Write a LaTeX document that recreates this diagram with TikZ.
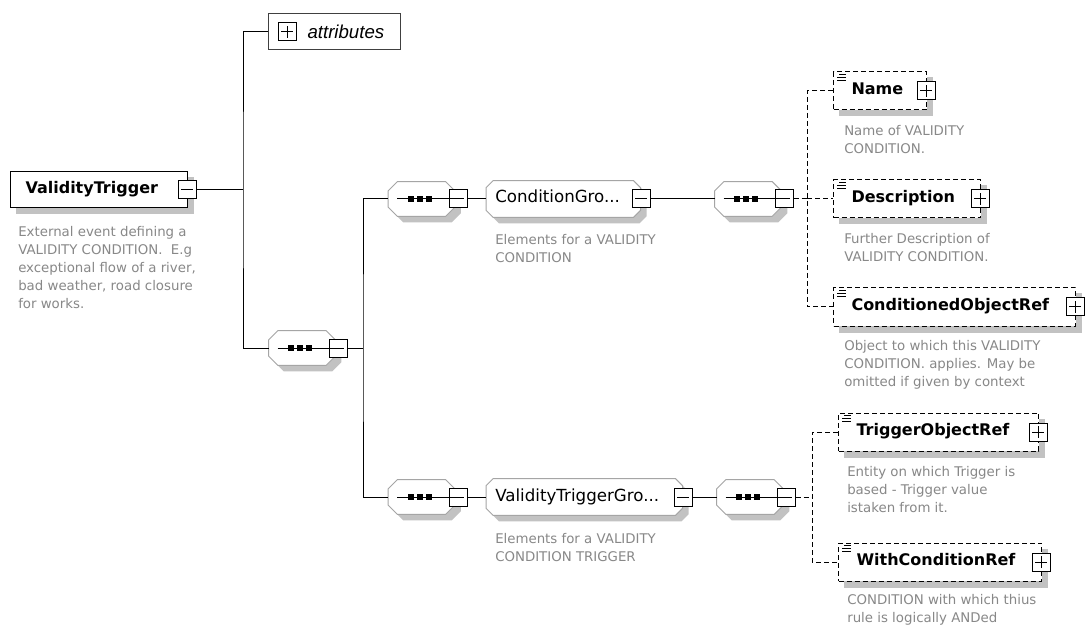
\documentclass[tikz,border=0pt]{standalone}
\usepackage{fontspec}
\setmainfont{DejaVu Sans}
\newfontfamily\arialf{Liberation Sans}
\usetikzlibrary{calc}
\pgfdeclarelayer{bglayer}
\pgfdeclarelayer{shadowlayer}
\pgfdeclarelayer{shapelayer}
\pgfsetlayers{bglayer,shadowlayer,shapelayer,main}
\definecolor{descgray}{RGB}{136,136,136}
\definecolor{shadowc}{RGB}{194,194,194}
\definecolor{octline}{RGB}{165,165,165}
\newcommand\pxu{*0.75pt}
\newcommand\elfont{\fontsize{12}{14}\selectfont\bfseries}
\newcommand\grpfont{\fontsize{12.5}{15}\selectfont}
\newcommand\descfont{\fontsize{10}{13.5}\selectfont}
\newcommand\attrfont{\arialf\itshape\fontsize{14}{16}\selectfont}
\newcommand\octpath[2]{($(#1.north west)+(#2,0)$) -- ($(#1.north east)+(-#2,0)$) -- ($(#1.north east)+(0,#2)$) -- ($(#1.south east)+(0,-#2)$) -- ($(#1.south east)+(-#2,0)$) -- ($(#1.south west)+(#2,0)$) -- ($(#1.south west)+(0,-#2)$) -- ($(#1.north west)+(0,#2)$) -- cycle}
\newcommand\seqicon[1]{%
  \draw[line width=0.75pt] ($(#1.west)+(9,0)$) -- (#1.east);
  \foreach \d in {-14,-5,4} {\fill ($(#1.center)+(\d,-3)$) rectangle ++(6,6);}
}
\newcommand\docicon[1]{%
  \draw[line width=0.6pt] ($(#1.north west)+(6,3)$) -- ++(7,0)
    ($(#1.north west)+(4,6)$) -- ++(9,0)
    ($(#1.north west)+(4,9)$) -- ++(9,0);
}
\tikzset{
  pmbox/.style={draw, fill=white, minimum size=18\pxu, inner sep=0pt, line width=0.75pt},
  minusbox/.style={pmbox, path picture={
     \draw[line width=0.75pt] ([xshift=2.5pt]path picture bounding box.west) -- ([xshift=-2.5pt]path picture bounding box.east);}},
  plusbox/.style={pmbox, path picture={
     \draw[line width=0.75pt] ([xshift=2.5pt]path picture bounding box.west) -- ([xshift=-2.5pt]path picture bounding box.east)
       ([yshift=-2.5pt]path picture bounding box.north) -- ([yshift=2.5pt]path picture bounding box.south);}},
  elem/.style={draw, fill=white, line width=0.75pt, anchor=west, align=left, font=\elfont,
     inner ysep=0pt, inner xsep=11.25pt, minimum height=36\pxu},
  delem/.style={elem, dashed box, inner xsep=13.5pt, minimum height=38\pxu},
  dashed box/.style={dash pattern=on 3.75pt off 2.25pt},
  grp/.style={anchor=west, align=left, font=\grpfont, inner ysep=0pt, inner xsep=6.75pt, minimum height=36\pxu},
  seqn/.style={minimum width=66\pxu, minimum height=34\pxu, inner sep=0pt},
  attrbox/.style={draw=black!75, fill=white, line width=0.75pt, anchor=west, align=left, font=\attrfont,
     inner ysep=0pt, inner xsep=4.5pt, minimum height=36\pxu, text width=90pt},
  desc/.style={anchor=north west, align=left, inner sep=0pt, font=\descfont, text=descgray},
  conn/.style={line width=0.75pt},
  dconn/.style={line width=0.75pt, dash pattern=on 3.75pt off 2.25pt},
  octshape/.style={fill=white, draw=octline, line width=0.75pt},
  shad/.style={fill=shadowc, transform canvas={shift={(6,6)}}}
}
\begin{document}
\begin{tikzpicture}[x=0.75pt,y=-0.75pt]
\useasboundingbox (0,0) rectangle (1085,627);
\begin{pgfonlayer}{bglayer}
\fill[white] (0,0) rectangle (1085,627);
\end{pgfonlayer}

% root element
\node[elem, text width=110.25pt] (vt) at (10,190) {\strut ValidityTrigger};
\node[minusbox] (vtm) at (187,190) {};
\coordinate (j0) at (243,190);
\node[desc] (vtd) at (18,226) {External event defining a\\VALIDITY CONDITION.\ \ E.g\\exceptional flow of a river,\\bad weather, road closure\\for works.};

% attributes
\node[attrbox] (attr) at (268,32) {\hspace*{24.75pt}attributes};
\node[plusbox] (attrp) at (287,32) {};

% first sequence
\node[seqn] (s1) at (302,348) {};
\node[minusbox] (s1m) at (338,348) {};
\coordinate (j1) at (363,348);

% upper branch
\node[seqn] (s2) at (421.5,199) {};
\node[minusbox] (s2m) at (458,199) {};
\node[grp, text width=102pt] (cg) at (486,199) {\strut ConditionGro...};
\node[minusbox] (cgm) at (641,199) {};
\node[desc] (cgd) at (495,234) {Elements for a VALIDITY\\CONDITION};
\node[seqn] (s3) at (748,199) {};
\node[minusbox] (s3m) at (784,199) {};
\coordinate (j3) at (807,199);

% lower branch
\node[seqn] (s5) at (421.5,497) {};
\node[minusbox] (s5m) at (458,497) {};
\node[grp, text width=133.5pt] (vtg) at (486,497) {\strut ValidityTriggerGro...};
\node[minusbox] (vtgm) at (683,497) {};
\node[desc] (vtgd) at (495,533) {Elements for a VALIDITY\\CONDITION TRIGGER};
\node[seqn] (s4) at (750,497) {};
\node[minusbox] (s4m) at (786,497) {};
\coordinate (j4) at (812,497);

% leaf elements
\node[delem, text width=42.75pt] (nm) at (833,91) {\strut Name};
\node[plusbox] (nmp) at (926,91) {};
\node[desc] (nmd) at (844,125) {Name of VALIDITY\\CONDITION.};

\node[delem, text width=83.25pt] (ds) at (833,199) {\strut Description};
\node[plusbox] (dsp) at (980,199) {};
\node[desc] (dsd) at (844,233) {Further Description of\\VALIDITY CONDITION.};

\node[delem, text width=154.5pt] (cor) at (833,307) {\strut ConditionedObjectRef};
\node[plusbox] (corp) at (1075,307) {};
\node[desc] (cord) at (844,340) {Object to which this VALIDITY\\CONDITION. applies. May be\\omitted if given by context};

\node[delem, text width=123pt] (tor) at (838,432) {\strut TriggerObjectRef};
\node[plusbox] (torp) at (1038,432) {};
\node[desc] (tord) at (847,466) {Entity on which Trigger is\\based - Trigger value\\istaken from it.};

\node[delem, text width=125.25pt] (wcr) at (838,562) {\strut WithConditionRef};
\node[plusbox] (wcrp) at (1041,562) {};
\node[desc] (wcrd) at (847,594) {CONDITION with which thius\\rule is logically ANDed};

% doc icons
\docicon{nm}
\docicon{ds}
\docicon{cor}
\docicon{tor}
\docicon{wcr}

% compositor octagons and group shapes
\begin{pgfonlayer}{shapelayer}
\filldraw[octshape] \octpath{s1}{9};
\filldraw[octshape] \octpath{s2}{9};
\filldraw[octshape] \octpath{s3}{9};
\filldraw[octshape] \octpath{s4}{9};
\filldraw[octshape] \octpath{s5}{9};
\filldraw[octshape] \octpath{cg}{7};
\filldraw[octshape] \octpath{vtg}{7};
\end{pgfonlayer}
\seqicon{s1}
\seqicon{s2}
\seqicon{s3}
\seqicon{s4}
\seqicon{s5}

% shadows
\begin{pgfonlayer}{shadowlayer}
\fill[shad] \octpath{s1}{9};
\fill[shad] \octpath{s2}{9};
\fill[shad] \octpath{s3}{9};
\fill[shad] \octpath{s4}{9};
\fill[shad] \octpath{s5}{9};
\fill[shad] \octpath{cg}{7};
\fill[shad] \octpath{vtg}{7};
\fill[shad] (vt.north west) rectangle (vt.south east);
\fill[shad] (nm.north west) rectangle (nm.south east);
\fill[shad] (ds.north west) rectangle (ds.south east);
\fill[shad] (cor.north west) rectangle (cor.south east);
\fill[shad] (tor.north west) rectangle (tor.south east);
\fill[shad] (wcr.north west) rectangle (wcr.south east);
\end{pgfonlayer}

% connectors
\draw[conn] (vtm.east) -- (j0);
\draw[conn] (attr.west) -| (j0) |- (s1.west);
\draw[conn] (s1m.east) -- (j1);
\draw[conn] (s2.west) -| (j1) |- (s5.west);
\draw[conn] (s2m.east) -- (cg.west);
\draw[conn] (cgm.east) -- (s3.west);
\draw[conn] (s5m.east) -- (vtg.west);
\draw[conn] (vtgm.east) -- (s4.west);
\draw[dconn] (s3m.east) -- (j3);
\draw[dconn] (nm.west) -| (j3) |- (cor.west);
\draw[dconn] (j3) -- (ds.west);
\draw[dconn] (s4m.east) -- (j4);
\draw[dconn] (tor.west) -| (j4) |- (wcr.west);
\end{tikzpicture}
\end{document}
